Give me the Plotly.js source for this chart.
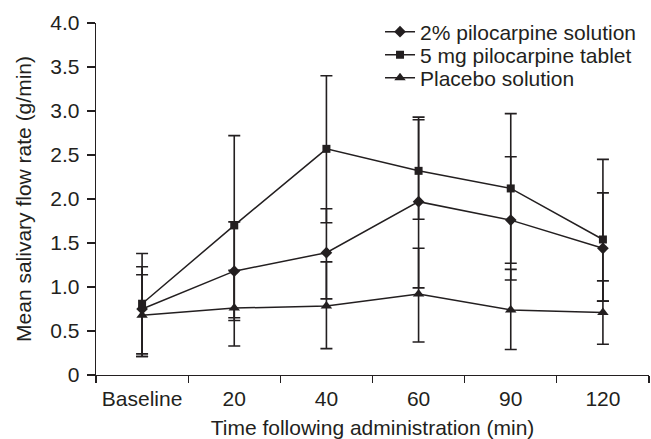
<!DOCTYPE html>
<html>
<head>
<meta charset="utf-8">
<script src="https://cdn.plot.ly/plotly-3.0.1.min.js"></script>
<style>html,body{margin:0;padding:0;background:#fff;}#chart{width:651px;height:439px;}</style>
</head>
<body>
<div id="chart"></div>
<script>
var categories = ["Baseline", "20", "40", "60", "90", "120"];

var pilo2Mean  = [0.75, 1.18, 1.39, 1.97, 1.76, 1.44];
var pilo2Plus  = [0.48, 0.56, 0.50, 0.96, 0.72, 0.63];
var pilo2Minus = [0.54, 0.56, 0.525, 0.98, 0.68, 0.60];

var tab5Mean  = [0.81, 1.70, 2.57, 2.32, 2.12, 1.54];
var tab5Plus  = [0.57, 1.02, 0.83, 0.58, 0.85, 0.91];
var tab5Minus = [0.57, 1.05, 0.84, 0.55, 0.85, 0.70];

var placeboMean  = [0.68, 0.76, 0.785, 0.92, 0.74, 0.71];
var placeboPlus  = [0.46, 0.43, 0.50, 0.52, 0.46, 0.36];
var placeboMinus = [0.47, 0.43, 0.485, 0.545, 0.45, 0.36];

var yTickVals = [0, 0.5, 1, 1.5, 2, 2.5, 3, 3.5, 4];
var yTickText = ["0", "0.5", "1.0", "1.5", "2.0", "2.5", "3.0", "3.5", "4.0"];

var ink = "#231f20";
var fontFam = "Arial, 'Liberation Sans', Helvetica, sans-serif";

function mkTrace(name, y, plus, minus, symbol, size, legendId) {
  return {
    type: "scatter", mode: "lines+markers", name: name, legend: legendId,
    x: categories, y: y,
    line: {color: ink, width: 1.5},
    marker: {symbol: symbol, size: size, color: ink},
    error_y: {type: "data", symmetric: false, array: plus, arrayminus: minus,
              color: ink, thickness: 1.6, width: 6}
  };
}

var data = [
  mkTrace("2% pilocarpine solution", pilo2Mean, pilo2Plus, pilo2Minus, "diamond", 9, "legend"),
  mkTrace("5 mg pilocarpine tablet", tab5Mean, tab5Plus, tab5Minus, "square", 8, "legend2"),
  mkTrace("Placebo solution", placeboMean, placeboPlus, placeboMinus, "triangle-up", 10, "legend3")
];

function mkLegend(yPos) {
  return {x: 0.5136, xanchor: "left", y: yPos, yanchor: "middle",
          font: {family: fontFam, size: 21, color: ink},
          bgcolor: "rgba(0,0,0,0)", borderwidth: 0};
}

var layout = {
  width: 651, height: 439,
  margin: {l: 96, r: 2, t: 23, b: 64, pad: 0},
  paper_bgcolor: "#fff", plot_bgcolor: "#fff",
  font: {family: fontFam, size: 21, color: ink},
  showlegend: true,
  legend: mkLegend(0.9744),
  legend2: mkLegend(0.9091),
  legend3: mkLegend(0.8438),
  xaxis: {
    type: "category", tickson: "boundaries",
    range: [-0.5, 5.5],
    showline: true, linecolor: ink, linewidth: 1.3,
    ticks: "outside", ticklen: 7, tickcolor: ink, tickwidth: 1.3,
    ticklabelstandoff: 4,
    showgrid: false, zeroline: false,
    tickfont: {family: fontFam, size: 21, color: ink},
    title: {text: "Time following administration (min)", font: {family: fontFam, size: 21, color: ink}, standoff: 11}
  },
  yaxis: {
    range: [0, 4.0],
    tickvals: yTickVals, ticktext: yTickText,
    showline: true, linecolor: ink, linewidth: 1.3,
    ticks: "outside", ticklen: 8, tickcolor: ink, tickwidth: 1.3,
    ticklabelstandoff: 3,
    showgrid: false, zeroline: false,
    tickfont: {family: fontFam, size: 21, color: ink},
    title: {text: "Mean salivary flow rate (g/min)", font: {family: fontFam, size: 21, color: ink}, standoff: 13}
  }
};

Plotly.newPlot("chart", data, layout, {displayModeBar: false, staticPlot: true});
</script>
</body>
</html>
